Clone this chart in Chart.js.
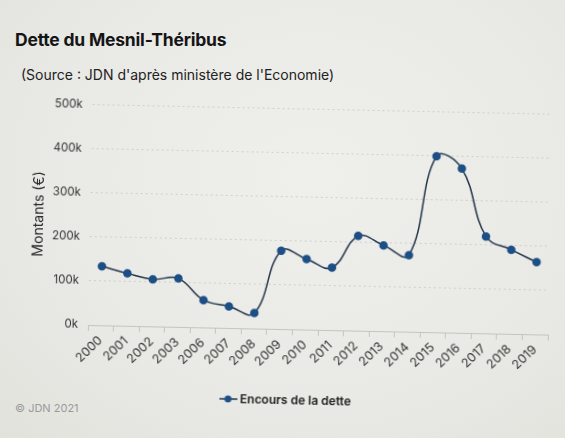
<!DOCTYPE html>
<html>
<head>
<meta charset="utf-8">
<script src="https://cdn.jsdelivr.net/npm/chart.js@4"></script>
<style>
  html, body { margin: 0; padding: 0; }
  body {
    width: 565px; height: 438px; overflow: hidden; position: relative;
    background: radial-gradient(ellipse at 55% 40%, #efefec 0%, #e9e9e5 60%, #e2e2dd 100%);
    font-family: Inter, "Noto Sans", sans-serif;
  }
  #title { position: absolute; left: 15px; top: 29px; font-size: 17.5px; font-weight: 700; color: #151515; letter-spacing: -0.2px; }
  #subtitle { position: absolute; left: 21px; top: 66px; font-size: 14px; color: #222; }
  #credit { position: absolute; left: 15px; top: 401px; font-size: 11px; color: #9a9a9a; }
  #wrap {
    position: absolute; left: 0; top: 88px; width: 565px; height: 328px;
    transform: rotate(1.2deg); transform-origin: 88px 235px;
  }
</style>
</head>
<body>
<div id="title">Dette du Mesnil-Théribus</div>
<div id="subtitle">(Source : JDN d'après ministère de l'Economie)</div>
<div id="credit">© JDN 2021</div>
<div id="wrap"><canvas id="myChart"></canvas></div>
<script>
const years = ["2000", "2001", "2002", "2003", "2006", "2007", "2008", "2009", "2010", "2011",
  "2012", "2013", "2014", "2015", "2016", "2017", "2018", "2019"];
const encours = [134000, 119000, 107000, 110000, 62000, 49000, 35000, 178000, 160000, 142000,
  215000, 195000, 174000, 400000, 373000, 220000, 191000, 164000];
const yTicks = [0, 100000, 200000, 300000, 400000, 500000];

const lineColor = "#22344a";
const dotColor = "#1c4f86";

// legend icon: short line with a dot in the middle
const legendIcon = document.createElement("canvas");
legendIcon.width = 18;
legendIcon.height = 8;
const ictx = legendIcon.getContext("2d");
ictx.strokeStyle = lineColor;
ictx.lineWidth = 1.5;
ictx.beginPath();
ictx.moveTo(0, 4);
ictx.lineTo(18, 4);
ictx.stroke();
ictx.fillStyle = dotColor;
ictx.beginPath();
ictx.arc(9, 4, 3.5, 0, Math.PI * 2);
ictx.fill();

Chart.defaults.font.family = "Inter, 'Noto Sans', sans-serif";
Chart.defaults.color = "#333";

const ctx = document.getElementById("myChart").getContext("2d");
const myChart = new Chart(ctx, {
  type: "line",
  data: {
    labels: years,
    datasets: [
      {
        label: "Encours de la dette",
        data: encours,
        borderColor: lineColor,
        borderWidth: 1.5,
        backgroundColor: dotColor,
        pointBackgroundColor: dotColor,
        pointBorderColor: dotColor,
        pointRadius: 3.5,
        tension: 0.4,
        fill: false,
      },
    ],
  },
  options: {
    responsive: true,
    maintainAspectRatio: false,
    animation: false,
    layout: { padding: { left: 28, right: 17, top: 6, bottom: 4 } },
    plugins: {
      legend: {
        position: "bottom",
        labels: {
          usePointStyle: true,
          color: "#1a1a1a",
          font: { size: 12, weight: "600" },
          padding: 8,
          generateLabels: (chart) => {
            return chart.data.datasets.map((ds, i) => ({
              text: ds.label,
              pointStyle: legendIcon,
              fillStyle: dotColor,
              strokeStyle: lineColor,
              fontColor: "#1a1a1a",
              datasetIndex: i,
            }));
          },
        },
      },
      tooltip: { enabled: false },
    },
    scales: {
      x: {
        offset: true,
        afterFit: (scale) => {
          scale.height = 57;
        },
        grid: {
          offset: true,
          drawOnChartArea: false,
          tickLength: 6,
          color: "#c4c4c0",
        },
        border: { color: "#c4c4c0" },
        ticks: {
          maxRotation: 45,
          minRotation: 45,
          autoSkip: false,
          font: { size: 12.5 },
          color: "#333",
          padding: 2,
        },
      },
      y: {
        min: 0,
        max: 500000,
        afterFit: (scale) => {
          scale.width = 60;
        },
        afterBuildTicks: (scale) => {
          scale.ticks = yTicks.map((v) => ({ value: v }));
        },
        grid: {
          drawTicks: false,
          color: "#cfcfcb",
        },
        border: { display: false, dash: [2, 3] },
        ticks: {
          padding: 10,
          font: { size: 11.5 },
          color: "#333",
          callback: (value) => value / 1000 + "k",
        },
        title: {
          display: true,
          text: "Montants (€)",
          font: { size: 14 },
          color: "#2a2a2a",
          padding: 0,
        },
      },
    },
  },
});
</script>
</body>
</html>
